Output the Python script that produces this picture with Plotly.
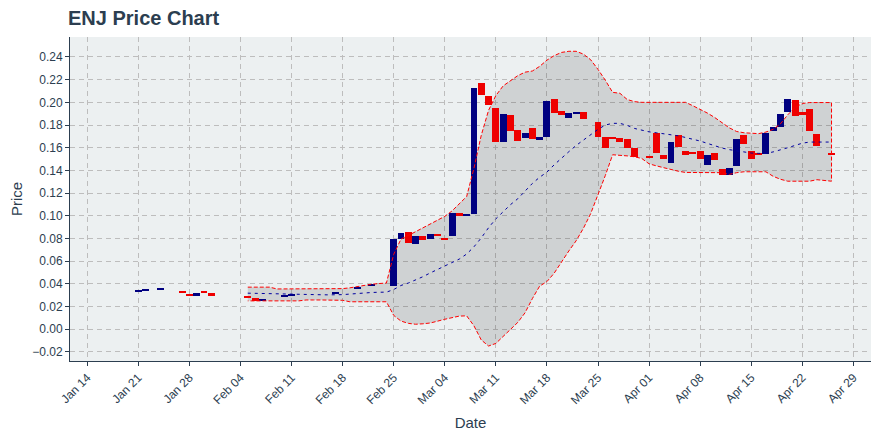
import plotly.graph_objects as go
import pandas as pd

# ---- candle data ----
dates = ["2019-01-21", "2019-01-22", "2019-01-24", "2019-01-27", "2019-01-28", "2019-01-29",
         "2019-01-30", "2019-01-31", "2019-02-05", "2019-02-06", "2019-02-07", "2019-02-10",
         "2019-02-11", "2019-02-17", "2019-02-20", "2019-02-22", "2019-02-25", "2019-02-26",
         "2019-02-27", "2019-02-28", "2019-03-01", "2019-03-02", "2019-03-03", "2019-03-04",
         "2019-03-05", "2019-03-06", "2019-03-07", "2019-03-08", "2019-03-09", "2019-03-10",
         "2019-03-11", "2019-03-12", "2019-03-13", "2019-03-14", "2019-03-15", "2019-03-16",
         "2019-03-17", "2019-03-18", "2019-03-19", "2019-03-20", "2019-03-21", "2019-03-22",
         "2019-03-23", "2019-03-25", "2019-03-26", "2019-03-27", "2019-03-28", "2019-03-29",
         "2019-03-30", "2019-04-01", "2019-04-02", "2019-04-03", "2019-04-04", "2019-04-05",
         "2019-04-06", "2019-04-07", "2019-04-08", "2019-04-09", "2019-04-10", "2019-04-11",
         "2019-04-12", "2019-04-13", "2019-04-14", "2019-04-15", "2019-04-16", "2019-04-17",
         "2019-04-18", "2019-04-19", "2019-04-20", "2019-04-21", "2019-04-22", "2019-04-23",
         "2019-04-24", "2019-04-26"]
opens = [0.0332, 0.0341, 0.0350, 0.0336, 0.0310, 0.0297,
         0.0330, 0.0321, 0.0287, 0.0277, 0.0248, 0.0291,
         0.0300, 0.0312, 0.0359, 0.0385, 0.0377, 0.0792,
         0.0860, 0.0748, 0.0825, 0.0792, 0.0834, 0.0798,
         0.0819, 0.1028, 0.1002, 0.1020, 0.2169, 0.2054,
         0.1948, 0.1650, 0.1886, 0.1753, 0.1685, 0.1771,
         0.1668, 0.1694, 0.2027, 0.1921, 0.1862, 0.1906,
         0.1912, 0.1824, 0.1691, 0.1691, 0.1683, 0.1674,
         0.1594, 0.1524, 0.1727, 0.1533, 0.1462, 0.1709,
         0.1568, 0.1560, 0.1568, 0.1444, 0.1550, 0.1409,
         0.1364, 0.1435, 0.1709, 0.1568, 0.1550, 0.1541,
         0.1745, 0.1780, 0.1912, 0.2018, 0.1912, 0.1939,
         0.1718, 0.1551]
closes = [0.0340, 0.0349, 0.0358, 0.0320, 0.0297, 0.0321,
          0.0321, 0.0297, 0.0279, 0.0253, 0.0268, 0.0306,
          0.0315, 0.0330, 0.0374, 0.0403, 0.0798, 0.0851,
          0.0757, 0.0825, 0.0783, 0.0843, 0.0819, 0.0783,
          0.1028, 0.1002, 0.1020, 0.2125, 0.2065, 0.1977,
          0.1650, 0.1895, 0.1747, 0.1659, 0.1727, 0.1676,
          0.1694, 0.2010, 0.1906, 0.1889, 0.1903, 0.1915,
          0.1853, 0.1694, 0.1594, 0.1682, 0.1647, 0.1594,
          0.1515, 0.1506, 0.1550, 0.1497, 0.1647, 0.1606,
          0.1533, 0.1542, 0.1497, 0.1533, 0.1488, 0.1364,
          0.1418, 0.1674, 0.1630, 0.1497, 0.1533, 0.1727,
          0.1780, 0.1894, 0.2027, 0.1877, 0.1886, 0.1744,
          0.1612, 0.1537]

# ---- band data (daily, Feb 05 .. Apr 26) ----
band_dates = [d.strftime("%Y-%m-%d") for d in pd.date_range("2019-02-05", "2019-04-26", freq="D")]
upper = [0.0371, 0.0371, 0.0371, 0.0371, 0.0355, 0.0355, 0.0355, 0.0355, 0.0355, 0.0355,
         0.0355, 0.0355, 0.0355, 0.0358, 0.0365, 0.0376, 0.0388, 0.0397, 0.0403, 0.0407,
         0.0660, 0.0795, 0.0826, 0.0860, 0.0890, 0.0931, 0.0963, 0.0995, 0.1043, 0.1108,
         0.1170, 0.1420, 0.1710, 0.1930, 0.2060, 0.2145, 0.2190, 0.2235, 0.2266, 0.2276,
         0.2317, 0.2372, 0.2412, 0.2440, 0.2450, 0.2450, 0.2425, 0.2375, 0.2290, 0.2195,
         0.2088, 0.2080, 0.2025, 0.2006, 0.2000, 0.2000, 0.2000, 0.2000, 0.2000, 0.2000,
         0.2000, 0.1970, 0.1938, 0.1905, 0.1866, 0.1822, 0.1775, 0.1743, 0.1732, 0.1728,
         0.1724, 0.1738, 0.1762, 0.1810, 0.1890, 0.1955, 0.1990, 0.1998, 0.1998, 0.1998,
         0.1998]
middle = [0.0318, 0.0316, 0.0315, 0.0313, 0.0312, 0.0310, 0.0309, 0.0308, 0.0306, 0.0305,
          0.0304, 0.0303, 0.0303, 0.0305, 0.0310, 0.0316, 0.0320, 0.0324, 0.0326, 0.0327,
          0.0350, 0.0386, 0.0407, 0.0433, 0.0463, 0.0496, 0.0528, 0.0560, 0.0592, 0.0619,
          0.0663, 0.0727, 0.0805, 0.0895, 0.0973, 0.1040, 0.1098, 0.1150, 0.1217, 0.1285,
          0.1340, 0.1385, 0.1450, 0.1510, 0.1565, 0.1620, 0.1670, 0.1715, 0.1762, 0.1800,
          0.1815, 0.1815, 0.1797, 0.1770, 0.1752, 0.1740, 0.1732, 0.1724, 0.1715, 0.1705,
          0.1690, 0.1675, 0.1659, 0.1638, 0.1616, 0.1597, 0.1583, 0.1572, 0.1560, 0.1553,
          0.1550, 0.1550, 0.1563, 0.1579, 0.1600, 0.1620, 0.1640, 0.1650, 0.1650, 0.1650,
          0.1650]
lower = [0.0250, 0.0250, 0.0250, 0.0250, 0.0250, 0.0250, 0.0250, 0.0250, 0.0258, 0.0258,
         0.0258, 0.0258, 0.0258, 0.0255, 0.0242, 0.0242, 0.0242, 0.0242, 0.0242, 0.0242,
         0.0122, 0.0072, 0.0052, 0.0044, 0.0048, 0.0055, 0.0071, 0.0088, 0.0104, 0.0116,
         0.0118, 0.0030, -0.0095, -0.0148, -0.0125, -0.0065, 0.0001, 0.0060, 0.0145, 0.0270,
         0.0380, 0.0420, 0.0495, 0.0590, 0.0690, 0.0780, 0.0890, 0.1020, 0.1180, 0.1355,
         0.1538, 0.1532, 0.1528, 0.1520, 0.1505, 0.1458, 0.1440, 0.1424, 0.1406, 0.1393,
         0.1382, 0.1380, 0.1380, 0.1380, 0.1380, 0.1380, 0.1365, 0.1380, 0.1388, 0.1388,
         0.1388, 0.1388, 0.1348, 0.1322, 0.1305, 0.1305, 0.1305, 0.1305, 0.1318, 0.1312,
         0.1305]

INC = "#000080"
DEC = "#EE0000"
TXT = "#2C3E50"
FONT = "Liberation Sans, Arial, sans-serif"

X_RANGE = ["2019-01-11 15:20", "2019-05-01 09:50"]
Y_RANGE = [-0.028, 0.2576]

fig = go.Figure()

poly_x = band_dates + band_dates[::-1]
poly_y = upper + lower[::-1]

# band fill on the base subplot (gridlines show through)
fig.add_trace(go.Scatter(x=poly_x, y=poly_y, mode="lines", fill="toself",
                         fillcolor="rgba(0,0,0,0.12)", line=dict(width=0),
                         hoverinfo="skip", showlegend=False, xaxis="x", yaxis="y"))

# candles (bodies) on the overlay subplot, drawn above the band fill
colors = [INC if c >= o else DEC for o, c in zip(opens, closes)]
fig.add_trace(go.Bar(x=dates, y=[c - o for o, c in zip(opens, closes)], base=opens,
                     width=0.95 * 86400000, marker=dict(color=colors, line=dict(width=0)),
                     showlegend=False, xaxis="x2", yaxis="y2"))

# band outline
fig.add_trace(go.Scatter(x=poly_x, y=poly_y, mode="lines",
                         line=dict(color="red", width=1, dash="4px,2px"),
                         hoverinfo="skip", showlegend=False, xaxis="x2", yaxis="y2"))

# moving average
fig.add_trace(go.Scatter(x=band_dates, y=middle, mode="lines",
                         line=dict(color="#0000A0", width=1, dash="3px,4px"),
                         showlegend=False, xaxis="x2", yaxis="y2"))

axis_common = dict(showline=True, linecolor=TXT, linewidth=1, ticks="outside",
                   ticklen=4, tickcolor=TXT, showgrid=True, gridcolor="#BDBDBD",
                   griddash="5px,4px", gridwidth=1, zeroline=False, automargin=False,
                   tickfont=dict(family=FONT, size=12, color=TXT))

fig.update_layout(
    width=872, height=432,
    margin=dict(l=62, r=9, t=29, b=79),
    paper_bgcolor="white", plot_bgcolor="#ECF0F1",
    title=dict(text="<b>ENJ Price Chart</b>", x=60 / 872, xref="container", xanchor="left",
               y=1 - 10 / 432, yref="container", yanchor="middle",
               font=dict(family=FONT, size=20, color=TXT)),
    bargap=0,
    xaxis=dict(type="date", range=X_RANGE,
               tick0="2019-01-14", dtick=7 * 86400000, tickformat="%b %d",
               tickangle=-45,
               title=dict(text="Date", font=dict(family=FONT, size=15, color=TXT), standoff=11),
               **axis_common),
    yaxis=dict(range=Y_RANGE, dtick=0.02, tick0=0, tickformat=".2f",
               title=dict(text="Price", font=dict(family=FONT, size=15, color=TXT), standoff=13),
               **axis_common),
    xaxis2=dict(type="date", range=X_RANGE, overlaying="x", matches="x", visible=False),
    yaxis2=dict(range=Y_RANGE, overlaying="y", matches="y", visible=False),
)

fig.write_html("out.html")
